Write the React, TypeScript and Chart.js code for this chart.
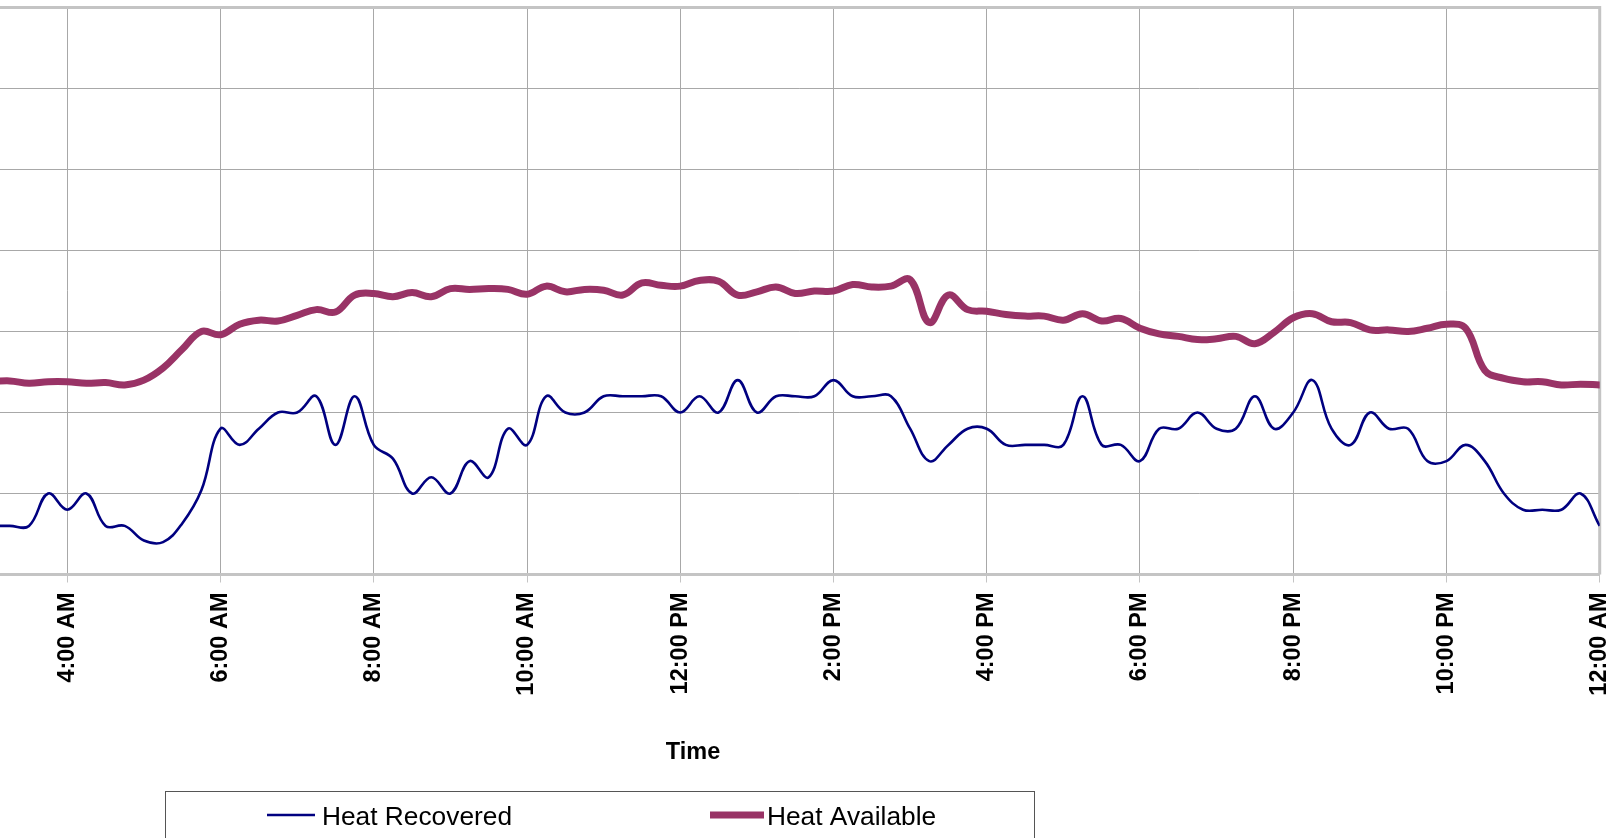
import { useEffect, useRef } from 'react';
import { Chart, registerables } from 'chart.js';

Chart.register(...registerables);

// 15-minute samples over the day
const sampleTimes = [
  '03:00', '03:15', '03:30', '03:45', '04:00', '04:15', '04:30', '04:45', '05:00', '05:15', '05:30', '05:45', '06:00', '06:15', '06:30',
  '06:45', '07:00', '07:15', '07:30', '07:45', '08:00', '08:15', '08:30', '08:45', '09:00', '09:15', '09:30', '09:45', '10:00',
  '10:15', '10:30', '10:45', '11:00', '11:15', '11:30', '11:45', '12:00', '12:15', '12:30', '12:45', '13:00', '13:15', '13:30',
  '13:45', '14:00', '14:15', '14:30', '14:45', '15:00', '15:15', '15:30', '15:45', '16:00', '16:15', '16:30', '16:45', '17:00',
  '17:15', '17:30', '17:45', '18:00', '18:15', '18:30', '18:45', '19:00', '19:15', '19:30', '19:45', '20:00', '20:15', '20:30',
  '20:45', '21:00', '21:15', '21:30', '21:45', '22:00', '22:15', '22:30', '22:45', '23:00', '23:15', '23:30', '23:45', '24:00',
];

const heatRecovered = [
  6, 6, 6, 10, 8, 10, 6, 6, 4.2, 4, 6.3, 10.4, 18, 16, 18,
  20, 20, 22, 16, 22, 16, 14.3, 10, 12, 10, 14, 12, 18, 16,
  22, 20, 20, 22, 22, 22, 22, 20, 22, 20, 24, 20, 22, 22,
  22, 24, 22, 22, 22, 18, 14, 16, 18, 18, 16, 16, 16, 16,
  22, 16, 16, 14, 18, 18, 20, 18, 18, 22, 18, 20, 24, 18,
  16, 20, 18, 18, 14, 14, 16, 14, 10, 8, 8, 8, 10, 6,
];

const heatAvailable = [
  23.8, 23.9, 23.6, 23.8, 23.8, 23.6, 23.7, 23.4, 24.0, 25.5, 27.8, 30.0, 29.6, 30.9, 31.4,
  31.3, 32.0, 32.7, 32.4, 34.5, 34.7, 34.3, 34.8, 34.3, 35.3, 35.2, 35.3, 35.2, 34.6,
  35.6, 34.9, 35.2, 35.1, 34.5, 36.0, 35.7, 35.6, 36.3, 36.2, 34.5, 34.9, 35.5, 34.7,
  35.0, 35.0, 35.8, 35.5, 35.6, 36.4, 31.1, 34.5, 32.7, 32.5, 32.1, 31.9, 31.9, 31.4,
  32.2, 31.3, 31.6, 30.4, 29.7, 29.4, 29.0, 29.1, 29.4, 28.5, 29.9, 31.7, 32.2, 31.2,
  31.1, 30.2, 30.2, 30.0, 30.4, 30.9, 30.4, 25.2, 24.2, 23.8, 23.8, 23.4, 23.5, 23.4,
];

const tickTimes = ['04:00', '06:00', '08:00', '10:00', '12:00', '14:00', '16:00', '18:00', '20:00', '22:00', '24:00'];
const tickLabels = ['4:00 AM', '6:00 AM', '8:00 AM', '10:00 AM', '12:00 PM', '2:00 PM', '4:00 PM', '6:00 PM', '8:00 PM', '10:00 PM', '12:00 AM'];

const seriesNames = ['Heat Recovered', 'Heat Available'];
const axisTitle = 'Time';

const FONT = '"Liberation Sans", Arial, Helvetica, sans-serif';

const toHours = (t: string) => {
  const [h, m] = t.split(':').map(Number);
  return h + m / 60;
};

const tickHours = tickTimes.map(toHours);

// Frame on the top/right of the plot, the axis caption and the boxed legend
const decorations = {
  id: 'decorations',
  beforeDatasetsDraw(chart: any) {
    const { ctx, chartArea } = chart;
    ctx.save();
    ctx.strokeStyle = '#c4c4c4';
    ctx.lineWidth = 3;
    ctx.beginPath();
    ctx.moveTo(chartArea.left, chartArea.top);
    ctx.lineTo(chartArea.right, chartArea.top);
    ctx.lineTo(chartArea.right, chartArea.bottom);
    ctx.stroke();
    ctx.restore();
  },
  afterDraw(chart: any) {
    const { ctx } = chart;
    ctx.save();

    // axis caption
    ctx.fillStyle = '#000';
    ctx.font = `bold 23.5px ${FONT}`;
    ctx.textAlign = 'center';
    ctx.textBaseline = 'alphabetic';
    ctx.fillText(axisTitle, 693, 759);

    // legend box
    ctx.strokeStyle = '#555';
    ctx.lineWidth = 1;
    ctx.strokeRect(165.5, 791.5, 869, 80);

    const slots = [
      { x0: 267, x1: 315, tx: 322 },
      { x0: 710, x1: 764, tx: 767 },
    ];
    ctx.font = `26.3px ${FONT}`;
    ctx.textAlign = 'left';
    chart.data.datasets.forEach((ds: any, i: number) => {
      const s = slots[i];
      ctx.strokeStyle = ds.borderColor;
      ctx.lineWidth = ds.borderWidth;
      ctx.lineCap = 'butt';
      ctx.beginPath();
      ctx.moveTo(s.x0, 815);
      ctx.lineTo(s.x1, 815);
      ctx.stroke();
      ctx.fillStyle = '#000';
      ctx.fillText(ds.label, s.tx, 825);
    });
    ctx.restore();
  },
};

export default function App() {
  const canvasRef = useRef<HTMLCanvasElement>(null);

  useEffect(() => {
    const canvas = canvasRef.current;
    if (!canvas) return;
    const xs = sampleTimes.map(toHours);

    const chart = new Chart(canvas, {
      type: 'line',
      data: {
        datasets: [
          {
            label: seriesNames[0],
            data: xs.map((x, i) => ({ x, y: heatRecovered[i] })),
            borderColor: '#000080',
            backgroundColor: '#000080',
            borderWidth: 2.6,
            pointRadius: 0,
            tension: 0.4,
            fill: false,
          },
          {
            label: seriesNames[1],
            data: xs.map((x, i) => ({ x, y: heatAvailable[i] })),
            borderColor: '#993366',
            backgroundColor: '#993366',
            borderWidth: 7,
            borderJoinStyle: 'round',
            borderCapStyle: 'round',
            pointRadius: 0,
            tension: 0.4,
            fill: false,
          },
        ],
      },
      options: {
        responsive: false,
        animation: false,
        devicePixelRatio: 1,
        layout: { padding: { left: 0, right: 14.3, top: 7.5, bottom: 133.5 } },
        plugins: {
          legend: { display: false },
          tooltip: { enabled: false },
          title: { display: false },
        },
        scales: {
          x: {
            type: 'linear',
            min: 3.122,
            max: 24,
            afterBuildTicks: (axis: any) => {
              axis.ticks = tickHours.map((value) => ({ value }));
            },
            afterFit: (axis: any) => {
              axis.height = 130;
              axis.paddingLeft = 0;
              axis.paddingRight = 0;
            },
            grid: {
              color: '#a8a8a8',
              lineWidth: 1,
              drawTicks: true,
              tickLength: 8,
              tickColor: '#c4c4c4',
            },
            border: { display: true, color: '#c4c4c4', width: 3 },
            ticks: {
              autoSkip: false,
              minRotation: 90,
              maxRotation: 90,
              padding: 10,
              color: '#000',
              font: { family: FONT, size: 23.5, weight: 'bold' },
              callback: (value: any) => {
                const i = tickHours.indexOf(Number(value));
                return i >= 0 ? tickLabels[i] : '';
              },
            },
          },
          y: {
            type: 'linear',
            min: 0,
            max: 70,
            ticks: { display: false, stepSize: 10 },
            grid: { color: '#a8a8a8', lineWidth: 1, drawTicks: false },
            border: { display: false },
          },
        },
      },
      plugins: [decorations],
    } as any);

    return () => chart.destroy();
  }, []);

  return (
    <div style={{ position: 'fixed', left: 0, top: 0, width: 1614, height: 838, background: '#fff', overflow: 'hidden' }}>
      <canvas ref={canvasRef} width={1614} height={838} style={{ display: 'block', width: 1614, height: 838 }} />
    </div>
  );
}
